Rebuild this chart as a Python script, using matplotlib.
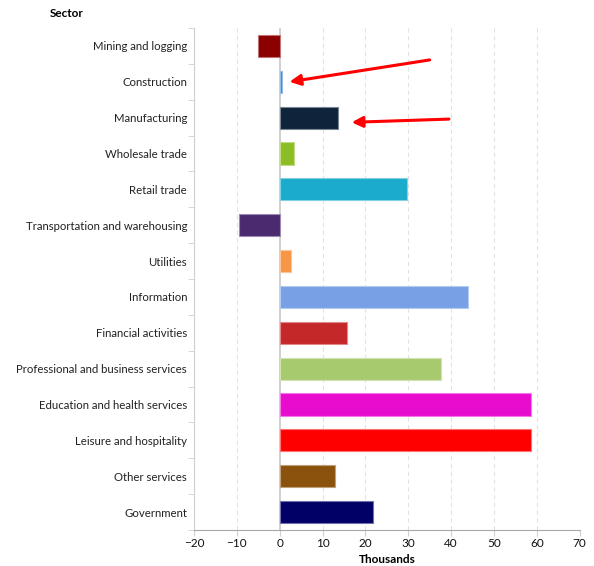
import matplotlib.pyplot as plt
import numpy as np
from matplotlib.colors import to_rgb

sectors = ['Mining and logging', 'Construction', 'Manufacturing', 'Wholesale trade',
           'Retail trade', 'Transportation and warehousing', 'Utilities', 'Information',
           'Financial activities', 'Professional and business services',
           'Education and health services', 'Leisure and hospitality',
           'Other services', 'Government']
values = [-5.0, 0.5, 13.7, 3.4, 29.6, -9.4, 2.6, 43.9, 15.8, 37.7, 58.7, 58.7, 12.9, 21.8]
colors = ['#8b0000', '#3d85d6', '#0f233b', '#8dbd25', '#1aabcd', '#4b2a70', '#f79646',
          '#77a1e4', '#c42828', '#a8ca6e', '#e80ccf', '#ff0000', '#8b520d', '#000066']
xticks = [-20, -10, 0, 10, 20, 30, 40, 50, 60, 70]

# red callout arrows (tail x, tail y, head x, head y) in data units
arrows = [(35.0, 0.39, 2.3, 1.0), (39.5, 2.04, 16.8, 2.13)]

plt.rcParams['font.family'] = ['Lato', 'DejaVu Sans']

fig = plt.figure(figsize=(5.94, 5.66), dpi=100)
ax = fig.add_axes([0.3266, 0.0636, 0.6492, 0.8869])

y = np.arange(len(sectors))
edges = [tuple(0.55 * np.array(to_rgb(c)) + 0.45) for c in colors]
ax.barh(y, values, height=0.62, color=colors, edgecolor=edges, linewidth=0.8, zorder=3)

ax.set_xlim(-20, 70)
ax.set_ylim(len(sectors) - 0.5, -0.5)
ax.set_xticks(xticks)
ax.set_xticklabels([str(t).replace('-', '\u2212') for t in xticks])
ax.set_yticks(y)
ax.set_yticklabels(sectors)
ax.set_yticks(np.arange(len(sectors) + 1) - 0.5, minor=True)

for t in xticks:
    if t != 0:
        ax.axvline(t, color='#e2e2e2', lw=0.8, ls=(0, (4, 3)), zorder=1)
ax.axvline(0, color='#c8c8c8', lw=1.2, zorder=2)

for s in ['top', 'right']:
    ax.spines[s].set_visible(False)
ax.spines['left'].set_color('#d0d0d0')
ax.spines['bottom'].set_color('#a8a8a8')
ax.tick_params(axis='y', which='major', length=0, pad=5, labelsize=8.2, labelcolor='#222222')
ax.tick_params(axis='y', which='minor', length=4, color='#d0d0d0')
ax.tick_params(axis='x', length=4, pad=2, color='#d0d0d0', labelsize=8.5, labelcolor='#111111')

ax.set_xlabel('Thousands', fontsize=8.5, fontweight='bold', labelpad=3)
fig.text(0.113, 0.977, 'Sector', fontsize=8.5, fontweight='bold', ha='center', va='center')

for x0, y0, x1, y1 in arrows:
    ax.annotate('', xy=(x1, y1), xytext=(x0, y0),
                arrowprops=dict(arrowstyle='-|>', color='red', lw=2.2, mutation_scale=16,
                                shrinkA=0, shrinkB=0), zorder=5)

plt.savefig('out.png', dpi=100)
